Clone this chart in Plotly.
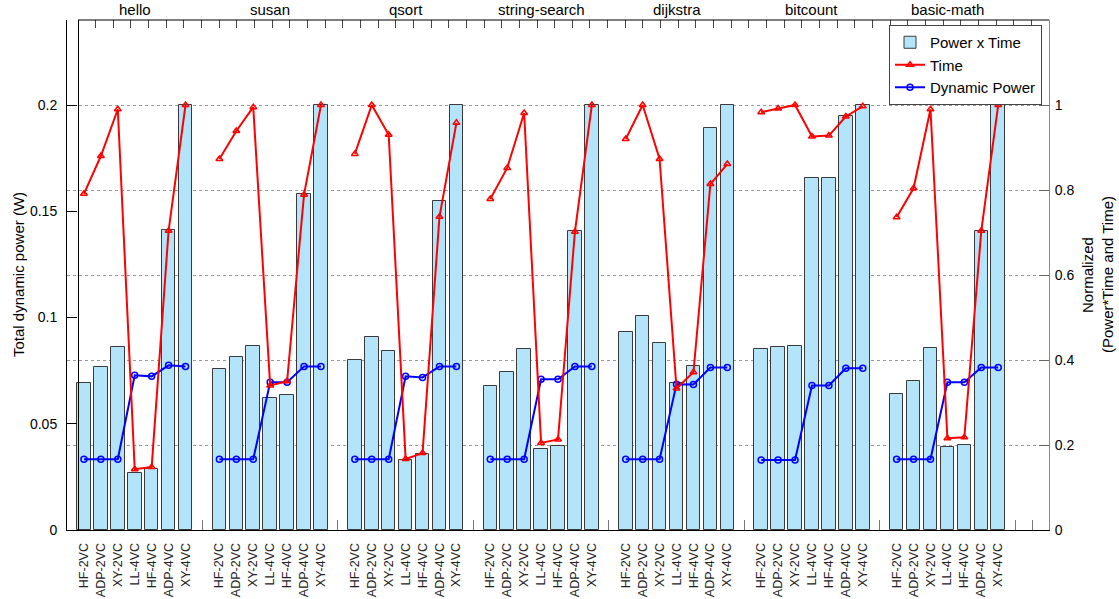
import plotly.graph_objects as go

benchmarks = ["hello", "susan", "qsort", "string-search", "dijkstra", "bitcount", "basic-math"]
configs = ["HF-2VC", "ADP-2VC", "XY-2VC", "LL-4VC", "HF-4VC", "ADP-4VC", "XY-4VC"]

# Normalized Power x Time (bars, right axis)
power_time = [
    [0.345, 0.383, 0.431, 0.134, 0.143, 0.705, 1.0],
    [0.380, 0.408, 0.434, 0.310, 0.317, 0.791, 1.0],
    [0.401, 0.455, 0.422, 0.164, 0.178, 0.775, 1.0],
    [0.340, 0.371, 0.425, 0.190, 0.197, 0.703, 1.0],
    [0.465, 0.504, 0.441, 0.345, 0.385, 0.946, 1.0],
    [0.427, 0.430, 0.434, 0.828, 0.828, 0.974, 1.0],
    [0.319, 0.350, 0.429, 0.195, 0.200, 0.704, 1.0],
]
# Normalized execution time (red line, right axis)
time_norm = [
    [0.791, 0.880, 0.990, 0.143, 0.148, 0.704, 1.0],
    [0.873, 0.939, 0.995, 0.340, 0.350, 0.789, 1.0],
    [0.885, 1.000, 0.930, 0.167, 0.181, 0.737, 0.958],
    [0.779, 0.852, 0.981, 0.205, 0.213, 0.702, 1.0],
    [0.920, 1.000, 0.873, 0.333, 0.371, 0.814, 0.861],
    [0.983, 0.992, 1.000, 0.926, 0.928, 0.973, 0.997],
    [0.736, 0.804, 0.990, 0.216, 0.218, 0.704, 1.0],
]
# Total dynamic power in W (blue line, left axis)
dyn_power = [
    [0.0333, 0.0333, 0.0333, 0.0728, 0.0723, 0.0775, 0.0770],
    [0.0333, 0.0333, 0.0333, 0.0695, 0.0695, 0.0770, 0.0770],
    [0.0333, 0.0333, 0.0333, 0.0723, 0.0718, 0.0770, 0.0770],
    [0.0333, 0.0333, 0.0333, 0.0709, 0.0709, 0.0770, 0.0770],
    [0.0333, 0.0333, 0.0333, 0.0686, 0.0685, 0.0765, 0.0765],
    [0.0329, 0.0329, 0.0329, 0.0680, 0.0680, 0.0761, 0.0761],
    [0.0333, 0.0333, 0.0333, 0.0695, 0.0695, 0.0765, 0.0765],
]

left_ticks = [0, 0.05, 0.1, 0.15, 0.2]
right_ticks = [0, 0.2, 0.4, 0.6, 0.8, 1]
left_range = [0, 0.24]
right_range = [0, 1.2]

FONT = "Liberation Sans, Arial, Helvetica, sans-serif"
slot = len(configs) + 1
n_slots = slot * len(benchmarks) + 1

bar_x, bar_y = [], []
line_x, t_y, p_y = [], [], []
tickvals, ticktext = [], []
for g, b in enumerate(benchmarks):
    for i, c in enumerate(configs):
        pos = g * slot + i + 1
        bar_x.append(pos)
        bar_y.append(power_time[g][i])
        line_x.append(pos)
        t_y.append(time_norm[g][i])
        p_y.append(dyn_power[g][i])
    line_x.append(None); t_y.append(None); p_y.append(None)

for s in range(1, n_slots + 1):
    tickvals.append(s)
    k = (s - 1) % slot
    ticktext.append(configs[k] if k < len(configs) and s <= slot * len(benchmarks) else "")

W, H = 1119, 599
L, R, T, B = 67, 70, 20, 69
pw = W - L - R
box_left = (78 - L) / pw
top_n = 55
top_lo = -top_n * box_left / (1 - box_left)

fig = go.Figure()
# helper for the visible left axis
fig.add_trace(go.Scatter(x=[None], y=[None], xaxis="x", yaxis="y", showlegend=False,
                         hoverinfo="skip"))
fig.add_trace(go.Bar(
    x=bar_x, y=bar_y, yaxis="y2", name="Power x Time", width=0.8,
    marker=dict(color="rgb(179,228,250)", line=dict(color="#3a3a3a", width=1)),
    legendrank=1,
))
fig.add_trace(go.Scatter(
    x=line_x, y=p_y, yaxis="y4", name="Dynamic Power", mode="lines+markers",
    line=dict(color="#0000ff", width=2),
    marker=dict(symbol="circle-open", size=6, color="#0000ff", line=dict(width=1.5)),
    connectgaps=False, legendrank=3,
))
fig.add_trace(go.Scatter(
    x=line_x, y=t_y, yaxis="y5", name="Time", mode="lines+markers",
    line=dict(color="#ff0000", width=2),
    marker=dict(symbol="triangle-up-open", size=6, color="#ff0000", line=dict(width=1.5)),
    connectgaps=False, legendrank=2,
))
# helpers so the framing axes are drawn
fig.add_trace(go.Scatter(x=[None], y=[None], xaxis="x2", yaxis="y", showlegend=False,
                         hoverinfo="skip"))
fig.add_trace(go.Scatter(x=[None], y=[None], xaxis="x", yaxis="y3", showlegend=False,
                         hoverinfo="skip"))

annotations = []
for g, b in enumerate(benchmarks):
    annotations.append(dict(
        x=g * slot + 4, y=1, xref="x", yref="paper", text=b, showarrow=False,
        yanchor="bottom", yshift=0, font=dict(size=15, color="#000", family=FONT)))
annotations.append(dict(
    x=(18 - L) / pw, y=0.5, xref="paper", yref="paper", text="Total dynamic power (W)",
    textangle=-90, showarrow=False, xanchor="center", yanchor="middle",
    font=dict(size=15, color="#000", family=FONT)))
annotations.append(dict(
    x=(1087 - L) / pw, y=0.5, xref="paper", yref="paper", text="Normalized",
    textangle=-90, showarrow=False, xanchor="center", yanchor="middle",
    font=dict(size=15, color="#000", family=FONT)))
annotations.append(dict(
    x=(1107 - L) / pw, y=0.5, xref="paper", yref="paper", text="(Power*Time and Time)",
    textangle=-90, showarrow=False, xanchor="center", yanchor="middle",
    font=dict(size=15, color="#000", family=FONT)))

shapes = [
    dict(type="line", xref="paper", yref="paper", x0=box_left, x1=1, y0=1, y1=1,
         line=dict(color="#000", width=1), layer="above"),
]

hidden_y = dict(overlaying="y", visible=False, showgrid=False, zeroline=False,
                automargin=False)

fig.update_layout(
    width=W, height=H,
    margin=dict(l=L, r=R, t=T, b=B, autoexpand=False),
    paper_bgcolor="white", plot_bgcolor="white",
    font=dict(family=FONT, size=14, color="#000"),
    bargap=0,
    showlegend=True,
    legend=dict(
        x=(889 - L) / pw, y=(530 - 25) / (H - T - B), xanchor="left", yanchor="top",
        bgcolor="white", bordercolor="#444", borderwidth=1,
        font=dict(size=15, family=FONT, color="#000"),
        tracegroupgap=0, itemwidth=30,
    ),
    xaxis=dict(
        domain=[0, 1], range=[0, n_slots + 1], automargin=False,
        tickvals=tickvals, ticktext=ticktext, tickangle=-90,
        ticks="inside", ticklen=10, tickcolor="#777", tickwidth=1,
        showline=True, linecolor="#000", linewidth=1,
        showgrid=False, zeroline=False, layer="below traces",
        tickfont=dict(size=12.5, family=FONT, color="#222"),
        ticklabelstandoff=7,
    ),
    xaxis2=dict(
        overlaying="x", side="top", anchor="y", range=[top_lo, top_n], automargin=False,
        tickvals=list(range(0, top_n + 1)), ticks="inside", ticklen=8,
        tickcolor="#444", showticklabels=False, showline=False,
        showgrid=False, zeroline=False, layer="below traces",
    ),
    yaxis=dict(
        range=left_range, tickvals=left_ticks, ticktext=["0", "0.05", "0.1", "0.15", "0.2"],
        automargin=False,
        ticks="inside", ticklen=10, tickcolor="#000", showline=True, linecolor="#000",
        linewidth=1, showgrid=False, zeroline=False,
        tickfont=dict(size=14, family=FONT, color="#000"), ticklabelstandoff=6,
    ),
    yaxis2=dict(
        range=right_range, overlaying="y", side="right", anchor="x", tickvals=right_ticks,
        ticktext=["0", "0.2", "0.4", "0.6", "0.8", "1"], automargin=False,
        ticks="inside", ticklen=10, tickcolor="#666", showline=True, linecolor="#888",
        linewidth=1, showgrid=True, gridcolor="#999", griddash="dot", gridwidth=1,
        zeroline=False, tickfont=dict(size=14, family=FONT, color="#000"),
        ticklabelstandoff=2,
    ),
    yaxis3=dict(
        range=[0, 1], overlaying="y", anchor="free", position=box_left, side="left",
        automargin=False,
        showline=True, linecolor="#000", linewidth=1, ticks="", showticklabels=False,
        showgrid=False, zeroline=False,
    ),
    yaxis4=dict(range=left_range, **hidden_y),
    yaxis5=dict(range=right_range, **hidden_y),
    annotations=annotations,
    shapes=shapes,
)

fig.write_html("out.html", config={"displayModeBar": False},
               post_script="document.body.style.margin='0';")
